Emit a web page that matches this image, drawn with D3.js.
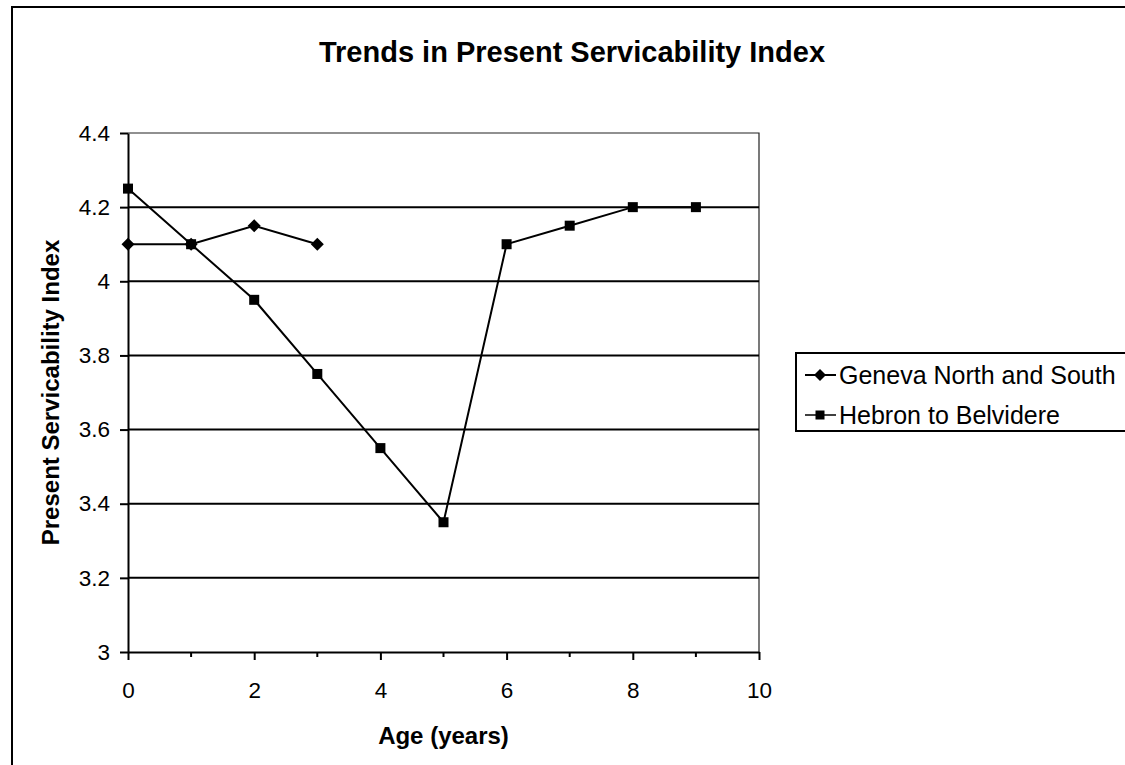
<!DOCTYPE html>
<html>
<head>
<meta charset="utf-8">
<script src="https://cdn.jsdelivr.net/npm/d3@7"></script>
<style>
  html, body { margin: 0; padding: 0; background: #fff; }
  svg { display: block; font-family: "Liberation Sans", Arial, sans-serif; }
</style>
</head>
<body>
<svg id="chart" width="1125" height="765"></svg>
<script>
// Present Servicability Index by pavement age
const ages = [0, 1, 2, 3, 4, 5, 6, 7, 8, 9];
const genevaAges = [0, 1, 2, 3];
const genevaPSI = [4.1, 4.1, 4.15, 4.1];
const hebronAges = ages;
const hebronPSI = [4.25, 4.1, 3.95, 3.75, 3.55, 3.35, 4.1, 4.15, 4.2, 4.2];

const yTicks = [3, 3.2, 3.4, 3.6, 3.8, 4, 4.2, 4.4];
const xMajorTicks = [0, 2, 4, 6, 8, 10];
const xMinorTicks = [1, 3, 5, 7, 9];
const seriesNames = ["Geneva North and South", "Hebron to Belvidere"];

const svg = d3.select("#chart");

// outer chart frame (extends past the right and bottom edges)
svg.append("rect")
  .attr("x", 12).attr("y", 7)
  .attr("width", 1140).attr("height", 800)
  .attr("fill", "#fff").attr("stroke", "#000").attr("stroke-width", 2);

const x = d3.scaleLinear().domain([0, 10]).range([128, 759]);
const y = d3.scaleLinear().domain([3, 4.4]).range([652, 133]);

// title
svg.append("text")
  .attr("x", 572).attr("y", 62)
  .attr("text-anchor", "middle")
  .attr("font-size", 29).attr("font-weight", "bold")
  .text("Trends in Present Servicability Index");

// plot area border (top and right)
svg.append("path")
  .attr("d", `M${x(0)},${y(4.4)}H${x(10)}V${y(3)}`)
  .attr("fill", "none").attr("stroke", "#222").attr("stroke-width", 1.2);

// horizontal gridlines
svg.append("g")
  .selectAll("line")
  .data(yTicks.filter(v => v > 3 && v < 4.4))
  .join("line")
  .attr("x1", x(0)).attr("x2", x(10))
  .attr("y1", d => y(d)).attr("y2", d => y(d))
  .attr("stroke", "#000").attr("stroke-width", 2);

// y axis
const yAxis = svg.append("g")
  .attr("transform", `translate(${x(0)},0)`)
  .call(d3.axisLeft(y).tickValues(yTicks).tickSize(8).tickSizeOuter(0).tickPadding(10)
        .tickFormat(d => d3.format("~g")(d)));
yAxis.select(".domain").attr("stroke", "#000").attr("stroke-width", 2);
yAxis.selectAll(".tick line").attr("stroke", "#000").attr("stroke-width", 2);
yAxis.selectAll("text").attr("font-size", 22.5).attr("fill", "#000")
  .attr("font-family", "Liberation Sans, Arial, sans-serif");

// x axis
const xAxis = svg.append("g")
  .attr("transform", `translate(0,${y(3)})`)
  .call(d3.axisBottom(x).tickValues(xMajorTicks).tickSize(8).tickSizeOuter(0).tickPadding(22));
xAxis.select(".domain").attr("stroke", "#000").attr("stroke-width", 2);
xAxis.selectAll(".tick line").attr("stroke", "#000").attr("stroke-width", 2);
xAxis.selectAll("text").attr("font-size", 22.5).attr("fill", "#000")
  .attr("font-family", "Liberation Sans, Arial, sans-serif");
xAxis.selectAll(".minor")
  .data(xMinorTicks)
  .join("line")
  .attr("class", "minor")
  .attr("x1", d => x(d)).attr("x2", d => x(d))
  .attr("y1", 0).attr("y2", 5)
  .attr("stroke", "#000").attr("stroke-width", 2);

// axis titles
svg.append("text")
  .attr("x", (x(0) + x(10)) / 2).attr("y", 744)
  .attr("text-anchor", "middle")
  .attr("font-size", 24).attr("font-weight", "bold")
  .text("Age (years)");

svg.append("text")
  .attr("transform", `translate(59,${(y(3) + y(4.4)) / 2}) rotate(-90)`)
  .attr("text-anchor", "middle")
  .attr("font-size", 24).attr("font-weight", "bold")
  .text("Present Servicability Index");

// series
const line = d3.line().x(d => x(d[0])).y(d => y(d[1]));
const genevaData = genevaAges.map((a, i) => [a, genevaPSI[i]]);
const hebronData = hebronAges.map((a, i) => [a, hebronPSI[i]]);

const diamond = (cx, cy, r) => `M${cx},${cy - r}L${cx + r},${cy}L${cx},${cy + r}L${cx - r},${cy}Z`;

svg.append("path").datum(hebronData)
  .attr("d", line).attr("fill", "none").attr("stroke", "#000").attr("stroke-width", 2);
svg.append("path").datum(genevaData)
  .attr("d", line).attr("fill", "none").attr("stroke", "#000").attr("stroke-width", 2);

svg.append("g").selectAll("rect")
  .data(hebronData)
  .join("rect")
  .attr("x", d => x(d[0]) - 5).attr("y", d => y(d[1]) - 5)
  .attr("width", 10).attr("height", 10)
  .attr("fill", "#000");

svg.append("g").selectAll("path")
  .data(genevaData)
  .join("path")
  .attr("d", d => diamond(x(d[0]), y(d[1]), 6.5))
  .attr("fill", "#000");

// legend
const legend = svg.append("g");
legend.append("rect")
  .attr("x", 796).attr("y", 353)
  .attr("width", 400).attr("height", 78)
  .attr("fill", "#fff").attr("stroke", "#000").attr("stroke-width", 2);

const legendRows = [375, 415];
seriesNames.forEach((name, i) => {
  const ly = legendRows[i];
  legend.append("line")
    .attr("x1", 805).attr("x2", 836).attr("y1", ly).attr("y2", ly)
    .attr("stroke", "#000").attr("stroke-width", i === 0 ? 2 : 1.5);
  if (i === 0) {
    legend.append("path").attr("d", diamond(820, ly, 6)).attr("fill", "#000");
  } else {
    legend.append("rect").attr("x", 815.5).attr("y", ly - 4.5)
      .attr("width", 9).attr("height", 9).attr("fill", "#000");
  }
  legend.append("text")
    .attr("x", 839).attr("y", ly)
    .attr("dominant-baseline", "central")
    .attr("font-size", 25)
    .text(name);
});
</script>
</body>
</html>
